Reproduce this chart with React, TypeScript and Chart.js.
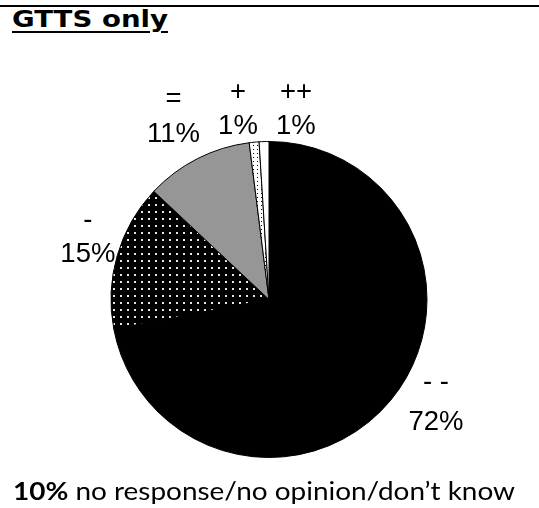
import React, { useEffect, useLayoutEffect, useRef } from "react";
import { Chart, registerables } from "chart.js";

Chart.register(...registerables);

// ---- data ----
const titleText = "GTTS only";
const categories = ["- -", "-", "=", "+", "++"];
const shares = [72, 15, 11, 1, 1];
const noResponseShare = "10%";
const noResponseText = " no response/no opinion/don\u2019t know";

// label placement nudges (dx, dy, half line gap) relative to the slice's mid-angle point
const LABEL_NUDGE: [number, number, number][] = [
  [18.5, -19.7, 20],
  [4, -8.7, 17],
  [-8, -11.2, 17.5],
  [-12.9, 1.4, 17],
  [33, 2.2, 17],
];

function makePattern(bg: string, dot: string, size: number, dotSize: number): CanvasPattern | string {
  const c = document.createElement("canvas");
  c.width = size;
  c.height = size;
  const g = c.getContext("2d");
  if (!g) return bg;
  g.fillStyle = bg;
  g.fillRect(0, 0, size, size);
  g.fillStyle = dot;
  g.fillRect(1, 1, dotSize, dotSize);
  const p = g.createPattern(c, "repeat");
  return p || bg;
}

const labelPlugin = {
  id: "sliceLabels",
  afterDatasetsDraw(chart: any) {
    const ctx = chart.ctx as CanvasRenderingContext2D;
    const meta = chart.getDatasetMeta(0);
    meta.data.forEach((arc: any, i: number) => {
      const { x, y, startAngle, endAngle, outerRadius } = arc.getProps(
        ["x", "y", "startAngle", "endAngle", "outerRadius"],
        true
      );
      const mid = (startAngle + endAngle) / 2;
      const d = outerRadius * 1.22;
      const [nx, ny, gap] = LABEL_NUDGE[i];
      const cx = x + Math.cos(mid) * d + nx;
      const cy = y + Math.sin(mid) * d + ny;
      ctx.save();
      ctx.font = "27.5px 'Liberation Sans', Arial, sans-serif";
      ctx.fillStyle = "#000";
      ctx.textAlign = "center";
      ctx.textBaseline = "middle";
      ctx.fillText(categories[i], cx, cy - gap);
      ctx.fillText(`${shares[i]}%`, cx, cy + gap);
      ctx.restore();
    });
  },
};

function FitText({
  targetWidth,
  style,
  children,
}: {
  targetWidth: number;
  style: React.CSSProperties;
  children: React.ReactNode;
}) {
  const ref = useRef<HTMLDivElement | null>(null);
  useLayoutEffect(() => {
    const el = ref.current;
    if (!el) return;
    el.style.transform = "none";
    const w = el.getBoundingClientRect().width;
    if (w > 0) el.style.transform = `scaleX(${targetWidth / w})`;
  });
  return (
    <div ref={ref} style={{ ...style, transformOrigin: "0 0", whiteSpace: "nowrap" }}>
      {children}
    </div>
  );
}

export default function App() {
  const canvasRef = useRef<HTMLCanvasElement | null>(null);

  useEffect(() => {
    const canvas = canvasRef.current;
    if (!canvas) return;
    const dottedDark = makePattern("#000000", "#e6e6e6", 7, 2);
    const dottedLight = makePattern("#ffffff", "#000000", 4, 1);
    const chart = new Chart(canvas, {
      type: "pie",
      data: {
        labels: categories,
        datasets: [
          {
            data: shares,
            backgroundColor: ["#000000", dottedDark, "#969696", dottedLight, "#ffffff"] as any,
            borderColor: "#000000",
            borderWidth: 1,
            hoverOffset: 0,
          },
        ],
      },
      options: {
        responsive: false,
        animation: false,
        events: [],
        radius: 158,
        layout: { padding: { top: 91, left: 0, right: 1, bottom: 0 } },
        plugins: {
          legend: { display: false },
          tooltip: { enabled: false },
          title: { display: false },
        },
      } as any,
      plugins: [labelPlugin],
    });
    return () => chart.destroy();
  }, []);

  return (
    <div
      style={{
        position: "absolute",
        left: 0,
        top: 0,
        width: 539,
        height: 508,
        background: "#fff",
        overflow: "hidden",
      }}
    >
      <div
        style={{
          position: "absolute",
          left: 0,
          top: 5,
          width: 539,
          height: 2,
          background: "#000",
        }}
      />
      <FitText
        targetWidth={156}
        style={{
          position: "absolute",
          left: 12,
          top: 7,
          fontFamily: "'DejaVu Sans', sans-serif",
          fontWeight: 700,
          fontSize: 23,
          lineHeight: "24px",
          textDecoration: "underline",
          textDecorationThickness: 2,
          textUnderlineOffset: 4,
          color: "#000",
        }}
      >
        {titleText}
      </FitText>
      <canvas
        ref={canvasRef}
        width={539}
        height={508}
        style={{ position: "absolute", left: 0, top: 0, width: 539, height: 508 }}
      />
      <FitText
        targetWidth={502}
        style={{
          position: "absolute",
          left: 13,
          top: 478,
          fontFamily: "Lato, 'Open Sans', sans-serif",
          fontSize: 25,
          lineHeight: "25px",
          color: "#000",
        }}
      >
        <span style={{ fontWeight: 700 }}>{noResponseShare}</span>
        {noResponseText}
      </FitText>
    </div>
  );
}
